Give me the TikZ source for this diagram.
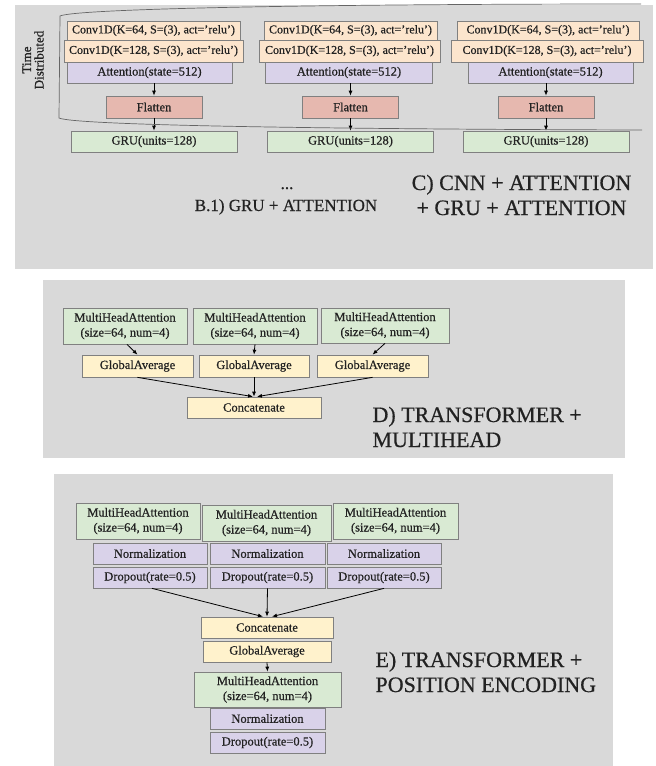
\documentclass[tikz,border=0pt]{standalone}
\usepackage{fontspec}
\setmainfont{Liberation Serif}[FakeBold=0.6]
\usetikzlibrary{arrows.meta,calc}
\definecolor{panelbg}{HTML}{D9D9D9}
\definecolor{bord}{HTML}{808080}
\definecolor{txt}{HTML}{222222}
\definecolor{peach}{HTML}{FCE5CD}
\definecolor{lav}{HTML}{D9D2E9}
\definecolor{rose}{HTML}{E6B8AF}
\definecolor{mint}{HTML}{D9EAD3}
\definecolor{cream}{HTML}{FFF2CC}
\begin{document}
\begin{tikzpicture}[x=1pt,y=-1pt,
  box/.style={draw=bord, line width=0.7pt, inner sep=0pt, text=txt, align=center,
    font=\fontsize{12.5}{15}\selectfont},
  convbox/.style={box, fill=peach, font=\fontsize{12}{14}\selectfont},
  attbox/.style={box, fill=lav},
  flatbox/.style={box, fill=rose},
  grubox/.style={box, fill=mint},
  yelbox/.style={box, fill=cream},
  mhabox/.style={box, fill=mint},
  arr/.style={-{Latex[length=5pt,width=4pt]}, line width=0.8pt, black},
  title/.style={text=txt, align=left, font=\fontsize{22}{25}\selectfont}
]
\useasboundingbox (0,0) rectangle (656,766);
% panels
\fill[panelbg] (15,5) rectangle (653,269);
\fill[panelbg] (43,280) rectangle (625,458);
\fill[panelbg] (54,474) rectangle (613,766);

% ---------- Panel C ----------
% column 1
\node[convbox, minimum width=173, minimum height=19] (a1) at (153.5,30.5) {Conv1D(K=64, S=(3), act='relu')};
\node[convbox, minimum width=179, minimum height=22] (b1) at (153.5,51) {Conv1D(K=128, S=(3), act='relu')};
\node[attbox, minimum width=165, minimum height=21] (t1) at (149.5,72.5) {Attention(state=512)};
\node[flatbox, minimum width=96, minimum height=22] (f1) at (154,107) {Flatten};
\node[grubox, minimum width=166, minimum height=21] (g1) at (154,141.5) {GRU(units=128)};
% column 2
\node[convbox, minimum width=173, minimum height=19] (a2) at (350.5,30.5) {Conv1D(K=64, S=(3), act='relu')};
\node[convbox, minimum width=181, minimum height=22] (b2) at (349.5,51) {Conv1D(K=128, S=(3), act='relu')};
\node[attbox, minimum width=167, minimum height=21] (t2) at (349,72.5) {Attention(state=512)};
\node[flatbox, minimum width=96, minimum height=22] (f2) at (350.5,107) {Flatten};
\node[grubox, minimum width=166, minimum height=21] (g2) at (350.5,141.5) {GRU(units=128)};
% column 3
\node[convbox, minimum width=182, minimum height=19] (a3) at (548,30.5) {Conv1D(K=64, S=(3), act='relu')};
\node[convbox, minimum width=192, minimum height=22] (b3) at (547,51) {Conv1D(K=128, S=(3), act='relu')};
\node[attbox, minimum width=165, minimum height=21] (t3) at (550.5,72.5) {Attention(state=512)};
\node[flatbox, minimum width=96, minimum height=22] (f3) at (546,107) {Flatten};
\node[grubox, minimum width=166, minimum height=21] (g3) at (546,141.5) {GRU(units=128)};

\draw[arr] (t1.south -| f1) -- (f1.north);
\draw[arr] (f1.south) -- (g1.north);
\draw[arr] (t2.south -| f2) -- (f2.north);
\draw[arr] (f2.south) -- (g2.north);
\draw[arr] (t3.south -| f3) -- (f3.north);
\draw[arr] (f3.south) -- (g3.north);

% time-distributed bracket
\draw[line width=0.7pt, draw=black!60]
  (641,4) .. controls (300,4) and (75,9) .. (60,16) -- (59,118)
  .. controls (75,125) and (300,129) .. (642,130);
\node[rotate=90, align=center, text=txt, font=\fontsize{13}{12.5}\selectfont] (td) at (33,60) {Time\\Distributed};

\node[text=txt, font=\fontsize{17}{20}\selectfont, anchor=base] (dots) at (287,189) {...};
\node[text=txt, font=\fontsize{17}{20}\selectfont, anchor=base] (b1t) at (286,211) {B.1) GRU + ATTENTION};
\node[title, align=center, anchor=base] (ct) at (521.5,215) {C) CNN + ATTENTION\\+ GRU + ATTENTION};

% ---------- Panel D ----------
\node[mhabox, minimum width=124, minimum height=36] (dm1) at (125,326) {MultiHeadAttention\\(size=64, num=4)};
\node[mhabox, minimum width=124, minimum height=36] (dm2) at (255,326) {MultiHeadAttention\\(size=64, num=4)};
\node[mhabox, minimum width=128, minimum height=35] (dm3) at (385,325.5) {MultiHeadAttention\\(size=64, num=4)};
\node[yelbox, minimum width=111, minimum height=22] (dg1) at (137.5,366) {GlobalAverage};
\node[yelbox, minimum width=110, minimum height=22] (dg2) at (254,366) {GlobalAverage};
\node[yelbox, minimum width=111, minimum height=22] (dg3) at (372.5,366) {GlobalAverage};
\node[yelbox, minimum width=134, minimum height=21] (dc) at (254,407.5) {Concatenate};
\draw[arr] ($(dm1.south)+(2,0)$) -- (dg1.north);
\draw[arr] (dm2.south) -- (dg2.north);
\draw[arr] (dm3.south) -- (dg3.north);
\draw[arr] (dg1.south) -- ($(dc.north)+(-1,0)$);
\draw[arr] (dg2.south) -- (dc.north);
\draw[arr] (dg3.south) -- ($(dc.north)+(3,0)$);
\node[title, anchor=base west] (dt) at (369,447) {D) TRANSFORMER +\\MULTIHEAD};

% ---------- Panel E ----------
\node[mhabox, minimum width=124, minimum height=36] (em1) at (138,521) {MultiHeadAttention\\(size=64, num=4)};
\node[mhabox, minimum width=129, minimum height=36] (em2) at (266.5,523) {MultiHeadAttention\\(size=64, num=4)};
\node[mhabox, minimum width=125, minimum height=36] (em3) at (395.5,521) {MultiHeadAttention\\(size=64, num=4)};
\node[attbox, minimum width=114, minimum height=21] (en1) at (150,553.5) {Normalization};
\node[attbox, minimum width=115, minimum height=21] (en2) at (267.5,553.5) {Normalization};
\node[attbox, minimum width=114, minimum height=21] (en3) at (384,553.5) {Normalization};
\node[attbox, minimum width=114, minimum height=21] (ed1) at (150,577.5) {Dropout(rate=0.5)};
\node[attbox, minimum width=115, minimum height=21] (ed2) at (267.5,577.5) {Dropout(rate=0.5)};
\node[attbox, minimum width=114, minimum height=21] (ed3) at (384,577.5) {Dropout(rate=0.5)};
\node[yelbox, minimum width=132, minimum height=21] (ec) at (267,627.5) {Concatenate};
\node[yelbox, minimum width=128, minimum height=21] (eg) at (267,651.5) {GlobalAverage};
\node[mhabox, minimum width=147, minimum height=35] (em4) at (267.5,689.5) {MultiHeadAttention\\(size=64, num=4)};
\node[attbox, minimum width=115, minimum height=21] (en4) at (267.5,718.5) {Normalization};
\node[attbox, minimum width=115, minimum height=21] (ed4) at (267.5,742.5) {Dropout(rate=0.5)};
\draw[arr] ($(ed1.south)+(2,0)$) -- ($(ec.north)+(-4,0)$);
\draw[arr] (ed2.south) -- (ec.north);
\draw[arr] (ed3.south) -- ($(ec.north)+(5,0)$);
\draw[arr] (eg.south) -- (em4.north);
\node[title, anchor=base west] (et) at (372,692) {E) TRANSFORMER +\\POSITION ENCODING};
\end{tikzpicture}
\end{document}
